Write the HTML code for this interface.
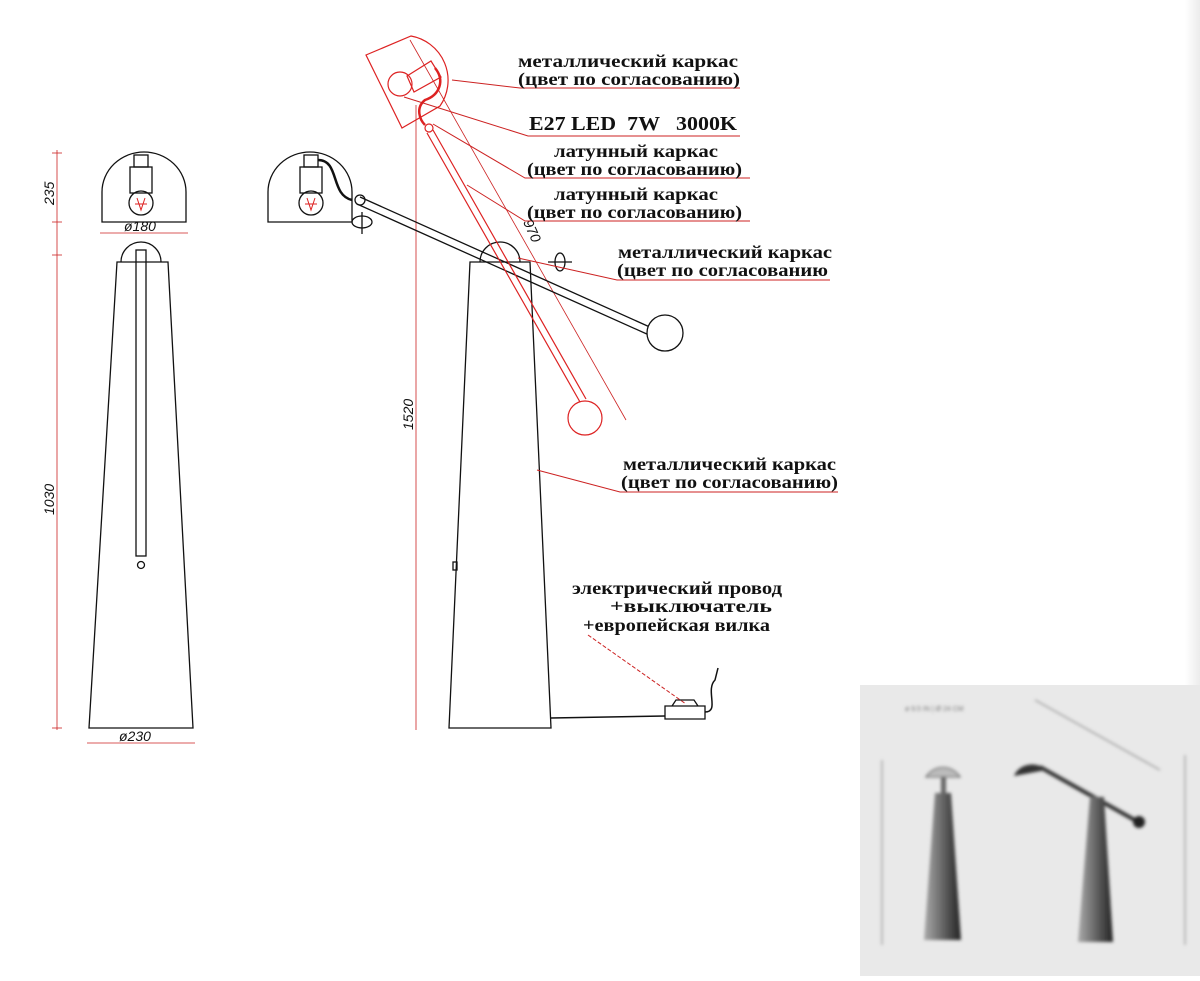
<!DOCTYPE html><html><head><meta charset="utf-8"><style>
html,body{margin:0;padding:0;background:#fff}
svg{display:block}
.t{font-family:"Liberation Serif",serif;font-weight:bold;font-size:18px;fill:#111}
.d{font-family:"Liberation Sans",sans-serif;font-style:italic;font-size:14px;fill:#111}
</style></head><body>
<svg width="1200" height="981" viewBox="0 0 1200 981" xmlns="http://www.w3.org/2000/svg">
<defs><linearGradient id="rs" x1="0" x2="1"><stop offset="0" stop-color="#fff"/><stop offset="1" stop-color="#ececec"/></linearGradient>
<linearGradient id="cone" x1="0" x2="1"><stop offset="0" stop-color="#aaa"/><stop offset="0.5" stop-color="#666"/><stop offset="1" stop-color="#222"/></linearGradient>
<filter id="bl"><feGaussianBlur stdDeviation="1.5"/></filter></defs>
<rect x="1185" y="0" width="15" height="685" fill="url(#rs)"/>
<!-- LEFT VIEW -->
<g stroke="#111" fill="none" stroke-width="1.3">
<path d="M102,222 L102,192 A42,40 0 0 1 186,192 L186,222 Z"/>
<rect x="134" y="155" width="14" height="12"/>
<rect x="130" y="167" width="22" height="26"/>
<circle cx="141" cy="203" r="12"/>
<path d="M117,262 L168,262 L193,728 L89,728 Z"/>
<path d="M121,262 A20,20 0 0 1 161,262"/>
<rect x="136" y="250" width="10" height="306"/>
<circle cx="141" cy="565" r="3.5"/>
</g>
<path d="M137,198 l4,12 4,-12 M135,204 l12,0" stroke="#d22" fill="none" stroke-width="1"/>
<g stroke="#c22" stroke-width="0.8" fill="none">
<line x1="57" y1="150" x2="57" y2="730"/>
<line x1="52" y1="153" x2="62" y2="153"/><line x1="52" y1="222" x2="62" y2="222"/><line x1="52" y1="255" x2="62" y2="255"/><line x1="52" y1="728" x2="62" y2="728"/>
<line x1="100" y1="233" x2="188" y2="233"/><line x1="87" y1="743" x2="195" y2="743"/>
<line x1="416" y1="105" x2="416" y2="730"/>
<line x1="410" y1="40" x2="626" y2="420"/>
</g>
<text class="d" transform="translate(54,205) rotate(-90)">235</text>
<text class="d" transform="translate(54,515) rotate(-90)">1030</text>
<text class="d" x="124" y="231">ø180</text>
<text class="d" x="119" y="741">ø230</text>
<text class="d" transform="translate(413,430) rotate(-90)">1520</text>
<text class="d" transform="translate(523,222) rotate(66)">970</text>
<!-- SIDE VIEW -->
<g stroke="#111" fill="none" stroke-width="1.3">
<path d="M268,222 L268,192 A42,40 0 0 1 352,192 L352,222 Z"/>
<rect x="304" y="155" width="14" height="12"/>
<rect x="300" y="167" width="22" height="26"/>
<circle cx="311" cy="203" r="12"/>
<path d="M470,262 L530,262 L551,728 L449,728 Z"/>
<path d="M480,262 A20,20 0 0 1 520,262"/>
<path d="M360,197 L652,328 M357,204 L649,335"/>
<circle cx="665" cy="333" r="18" fill="#fff"/>
<circle cx="360" cy="200" r="5"/>
<ellipse cx="362" cy="222" rx="10" ry="6"/><line x1="362" y1="212" x2="362" y2="234"/>
<ellipse cx="560" cy="262" rx="5" ry="9"/><line x1="548" y1="262" x2="572" y2="262"/>
<path d="M318,160 C340,160 330,195 352,200" stroke-width="2.5"/>
<path d="M551,718 L665,716" stroke-width="1.5"/>
<path d="M665,706 L705,706 L705,719 L665,719 Z M672,706 L676,700 L694,700 L698,706"/>
<path d="M705,712 C720,712 705,690 715,680 L718,668" stroke-width="1.5"/>
<rect x="453" y="562" width="4" height="8"/>
</g>
<path d="M307,198 l4,12 4,-12 M305,204 l12,0" stroke="#d22" fill="none" stroke-width="1"/>
<!-- red raised arm -->
<g stroke="#d22" fill="none" stroke-width="1.2">
<path d="M366,55 L411,36 A45,45 0 0 1 440,106 L402,128 Z"/>
<circle cx="400" cy="84" r="12"/>
<path d="M407,76 L431,61 L441,77 L414,92 Z"/>
<path d="M435,68 C445,80 440,95 425,100 C415,108 420,120 425,125" stroke-width="2.5"/>
<circle cx="429" cy="128" r="4"/>
<path d="M427,133 L580,402 M433,130 L586,399"/>
<circle cx="585" cy="418" r="17" fill="#fff"/>
</g>
<!-- leaders -->
<g stroke="#c22" stroke-width="1" fill="none">
<path d="M452,80 L520,88 L740,88"/>
<path d="M404,97 L528,136 L740,136"/>
<path d="M433,124 L525,178 L750,178"/>
<path d="M467,185 L525,221 L750,221"/>
<path d="M518,258 L617,280 L830,280"/>
<path d="M537,470 L620,492 L838,492"/>
<path d="M588,635 L686,704" stroke-dasharray="4,2"/>
</g>
<g class="t">
<text class="t" x="518" y="67" textLength="220" lengthAdjust="spacingAndGlyphs">металлический каркас</text>
<text class="t" x="518" y="85" textLength="222" lengthAdjust="spacingAndGlyphs">(цвет по согласованию)</text>
<text class="t" x="529" y="130" style="font-size:20px" textLength="208" lengthAdjust="spacingAndGlyphs">E27 LED &#160;7W &#160;&#160;3000K</text>
<text class="t" x="554" y="157" textLength="164" lengthAdjust="spacingAndGlyphs">латунный каркас</text>
<text class="t" x="527" y="175" textLength="215" lengthAdjust="spacingAndGlyphs">(цвет по согласованию)</text>
<text class="t" x="554" y="200" textLength="164" lengthAdjust="spacingAndGlyphs">латунный каркас</text>
<text class="t" x="527" y="218" textLength="215" lengthAdjust="spacingAndGlyphs">(цвет по согласованию)</text>
<text class="t" x="618" y="258" textLength="214" lengthAdjust="spacingAndGlyphs">металлический каркас</text>
<text class="t" x="617" y="276" textLength="211" lengthAdjust="spacingAndGlyphs">(цвет по согласованию</text>
<text class="t" x="623" y="470" textLength="213" lengthAdjust="spacingAndGlyphs">металлический каркас</text>
<text class="t" x="621" y="488" textLength="217" lengthAdjust="spacingAndGlyphs">(цвет по согласованию)</text>
<text class="t" x="572" y="594" textLength="210" lengthAdjust="spacingAndGlyphs">электрический провод</text>
<text class="t" x="610" y="612" textLength="162" lengthAdjust="spacingAndGlyphs">+выключатель</text>
<text class="t" x="583" y="631" textLength="187" lengthAdjust="spacingAndGlyphs">+европейская вилка</text>
</g>
<!-- photo -->
<rect x="860" y="685" width="340" height="291" fill="#e9e9e9"/>
<g filter="url(#bl)">
<path d="M926,777 A20,20 0 0 1 960,777 Z" fill="#bbb" stroke="#444"/>
<rect x="941" y="777" width="5" height="22" fill="#666"/>
<path d="M935,793 L951,793 L961,940 L924,940 Z" fill="url(#cone)"/>
<path d="M1014,776 A19,17 0 0 1 1046,770 L1014,776 Z" fill="#333"/>
<path d="M1040,767 L1140,823" stroke="#333" stroke-width="4"/>
<circle cx="1139" cy="822" r="6" fill="#222"/>
<path d="M1090,797 L1104,797 L1113,942 L1078,942 Z" fill="url(#cone)"/>
<path d="M1035,700 L1160,770" stroke="#777" stroke-width="1"/>
<text x="905" y="711" font-size="7" fill="#777" font-family="Liberation Sans">ø 9.5 IN | Ø 24 CM</text>
<line x1="882" y1="760" x2="882" y2="945" stroke="#888"/><line x1="1185" y1="755" x2="1185" y2="945" stroke="#888"/>
</g>
</svg>
</body></html>
